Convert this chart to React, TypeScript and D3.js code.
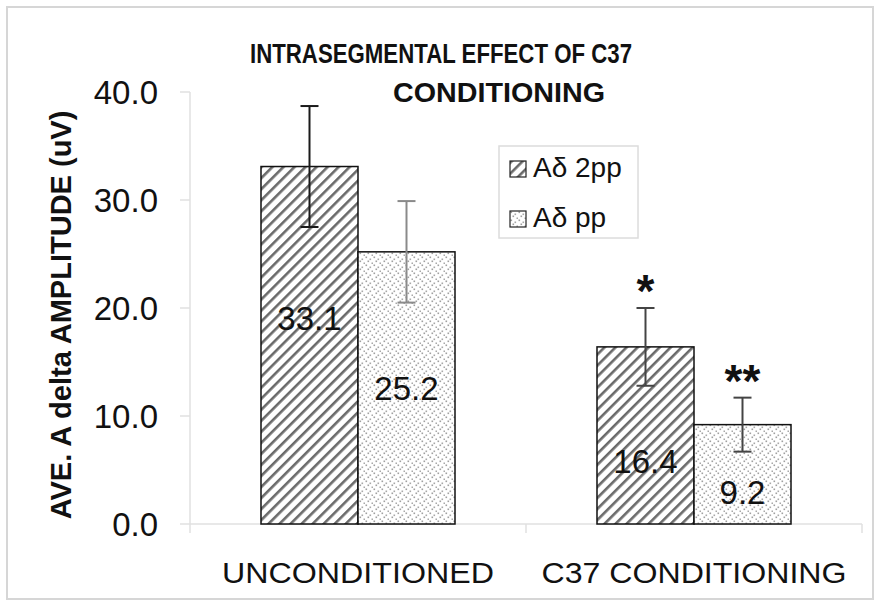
import React from "react";
import * as d3 from "d3";

const categories = ["UNCONDITIONED", "C37 CONDITIONING"];
const categoryLabelWidths = [272, 305];
const seriesNames = ["Aδ 2pp", "Aδ pp"];
const values = [
  [33.1, 25.2],
  [16.4, 9.2],
];
const errors = [
  [5.6, 4.7],
  [3.6, 2.5],
];
const labelCenters = [
  [19.1, 12.6],
  [5.8, 3.0],
];
const significance = [
  ["", ""],
  ["*", "**"],
];
const errorColors = [
  ["#1a1a1a", "#8a8a8a"],
  ["#444", "#444"],
];
const yTicks = [0, 10, 20, 30, 40];

const W = 881;
const H = 606;
const FONT = "'Liberation Sans', Arial, Helvetica, sans-serif";

export default function App() {
  const y = d3.scaleLinear().domain([0, 40]).range([524, 92]);
  const x0 = d3
    .scaleBand<string>()
    .domain(categories)
    .range([190, 862])
    .paddingInner(0.4226)
    .paddingOuter(0.2113);
  const x1 = d3
    .scaleBand<string>()
    .domain(seriesNames)
    .range([0, x0.bandwidth()]);
  const fills = ["url(#hatch)", "url(#dots)"];
  const boundaries = [190, 526, 862];

  return (
    <svg
      width={W}
      height={H}
      style={{ position: "absolute", left: 0, top: 0, background: "#fff" }}
      fontFamily={FONT}
    >
      <defs>
        <pattern
          id="hatch"
          patternUnits="userSpaceOnUse"
          width={7.8}
          height={7.8}
          patternTransform="rotate(45)"
        >
          <rect width={7.8} height={7.8} fill="#fff" />
          <rect x={0} y={0} width={2.6} height={7.8} fill="#6a6a6a" />
        </pattern>
        <pattern id="dots" patternUnits="userSpaceOnUse" width={8} height={8}>
          <rect width={8} height={8} fill="#fff" />
          <rect x={0.5} y={0.5} width={1.6} height={1.6} fill="#a0a0a0" />
          <rect x={4.5} y={2.5} width={1.6} height={1.6} fill="#a8a8a8" />
          <rect x={2.5} y={4.5} width={1.6} height={1.6} fill="#a0a0a0" />
          <rect x={6.5} y={6.5} width={1.6} height={1.6} fill="#a8a8a8" />
        </pattern>
      </defs>

      <rect x={7} y={7} width={866} height={592} fill="#fff" stroke="#d6d6d6" strokeWidth={2} />

      {/* Title */}
      <text x={441} y={63} textAnchor="middle" fontSize={27} fontWeight="bold" textLength={382} lengthAdjust="spacingAndGlyphs" fill="#111">
        INTRASEGMENTAL EFFECT OF C37
      </text>
      <text x={499} y={102} textAnchor="middle" fontSize={27} fontWeight="bold" textLength={212} lengthAdjust="spacingAndGlyphs" fill="#111">
        CONDITIONING
      </text>

      {/* Y axis */}
      <line x1={190} x2={190} y1={y(40)} y2={y(0)} stroke="#e0e0e0" strokeWidth={1.5} />
      {yTicks.map((t) => (
        <g key={t}>
          <line x1={180} x2={190} y1={y(t)} y2={y(t)} stroke="#e0e0e0" strokeWidth={1.5} />
          <text x={158} y={y(t) + 12} textAnchor="end" fontSize={33} fill="#111">
            {t.toFixed(1)}
          </text>
        </g>
      ))}
      <text
        transform={`translate(71, 315) rotate(-90)`}
        textAnchor="middle"
        fontSize={29}
        fontWeight="bold"
        fill="#111"
      >
        AVE. A delta AMPLITUDE (uV)
      </text>

      {/* X axis */}
      <line x1={190} x2={862} y1={y(0)} y2={y(0)} stroke="#e0e0e0" strokeWidth={1.5} />
      {boundaries.map((xv, i) => (
        <line key={i} x1={xv} x2={xv} y1={y(0)} y2={y(0) + 9} stroke="#e0e0e0" strokeWidth={1.5} />
      ))}
      {categories.map((c, i) => (
        <text
          key={c}
          x={(x0(c) as number) + x0.bandwidth() / 2}
          y={583}
          textAnchor="middle"
          fontSize={30}
          textLength={categoryLabelWidths[i]}
          lengthAdjust="spacingAndGlyphs"
          fill="#111"
        >
          {c}
        </text>
      ))}

      {/* Bars */}
      {categories.map((c, ci) => (
        <g key={c} transform={`translate(${x0(c)},0)`}>
          {seriesNames.map((s, si) => {
            const v = values[ci][si];
            const bx = x1(s) as number;
            const bw = x1.bandwidth();
            const cx = bx + bw / 2;
            const e = errors[ci][si];
            return (
              <g key={s}>
                <rect x={bx} y={y(v)} width={bw} height={y(0) - y(v)} fill={fills[si]} stroke="#111" strokeWidth={1.5} />
                <line x1={cx} x2={cx} y1={y(v + e)} y2={y(v - e)} stroke={errorColors[ci][si]} strokeWidth={2} />
                <line x1={cx - 9} x2={cx + 9} y1={y(v + e)} y2={y(v + e)} stroke={errorColors[ci][si]} strokeWidth={2} />
                <line x1={cx - 9} x2={cx + 9} y1={y(v - e)} y2={y(v - e)} stroke={errorColors[ci][si]} strokeWidth={2} />
                <text x={cx} y={y(labelCenters[ci][si]) + 12} textAnchor="middle" fontSize={33} fill="#111">
                  {v.toFixed(1)}
                </text>
                {significance[ci][si] && (
                  <text x={cx} y={y(v + e) - 1} textAnchor="middle" fontSize={46} fontWeight="bold" fill="#111">
                    {significance[ci][si]}
                  </text>
                )}
              </g>
            );
          })}
        </g>
      ))}

      {/* Legend */}
      <rect x={499} y={146} width={139} height={92} fill="#fff" stroke="#dcdcdc" strokeWidth={1.5} />
      {seriesNames.map((s, i) => (
        <g key={s} transform={`translate(510, ${161 + i * 50})`}>
          <rect x={0} y={0} width={16} height={16} fill={fills[i]} stroke="#222" strokeWidth={1.2} />
          <text x={23} y={16} fontSize={28} fill="#111">
            {s}
          </text>
        </g>
      ))}
    </svg>
  );
}
